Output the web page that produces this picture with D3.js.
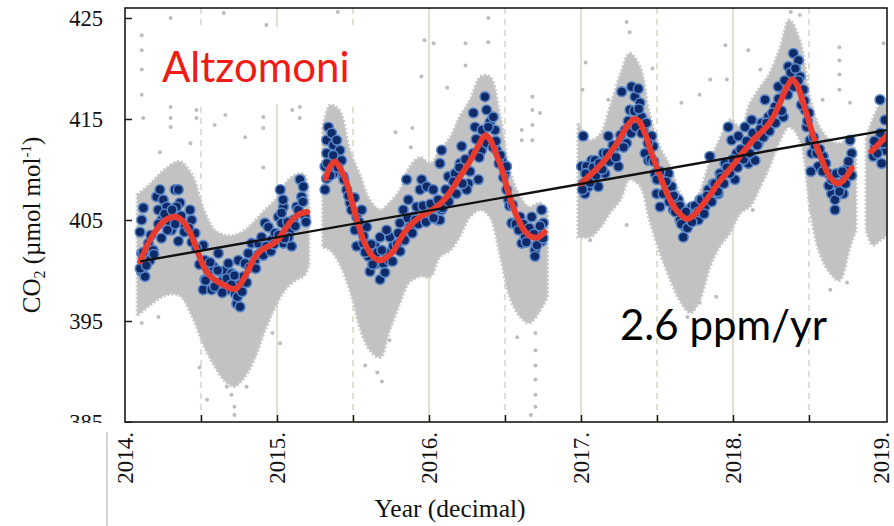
<!DOCTYPE html>
<html><head><meta charset="utf-8">
<script src="https://cdn.jsdelivr.net/npm/d3@7"></script>
<style>html,body{margin:0;padding:0;background:#fff;} svg{display:block;}</style>
</head><body>
<svg id="chart" width="894" height="526"></svg>
<script>
// ---------------- DATA ----------------
const yTickValues = [385, 395, 405, 415, 425];
const xLabelYears = [2014, 2015, 2016, 2017, 2018, 2019];
const xTickLabels = ["2014.", "2015.", "2016.", "2017.", "2018.", "2019."];
const yearGrid = [2015, 2016, 2017, 2018];
const halfYearGrid = [2014.5, 2015.5, 2016.5, 2017.5, 2018.5];

// smoothed fit (red), segments [year, ppm]
const fitSeg1 = [[2014.10,400.9],[2014.15,402.6],[2014.20,403.9],[2014.25,404.8],[2014.30,405.25],[2014.34,405.3],[2014.38,404.9],[2014.42,404.0],[2014.46,402.6],[2014.50,401.0],[2014.54,399.8],[2014.58,399.2],[2014.62,398.8],[2014.66,398.5],[2014.70,398.2],[2014.73,398.2],[2014.77,398.9],[2014.81,400.0],[2014.85,401.2],[2014.89,401.9],[2014.93,402.3],[2014.97,402.6],[2015.01,403.1],[2015.05,404.0],[2015.10,405.0],[2015.15,405.6],[2015.20,405.8]];
const fitSeg2 = [[2015.32,409.1],[2015.35,410.3],[2015.38,410.8],[2015.42,410.0],[2015.46,408.6],[2015.50,406.4],[2015.54,404.3],[2015.58,402.6],[2015.63,401.4],[2015.68,401.0],[2015.72,401.3],[2015.77,402.0],[2015.81,403.1],[2015.85,404.0],[2015.90,404.8],[2015.95,405.4],[2016.00,405.8],[2016.05,406.3],[2016.10,407.0],[2016.15,408.0],[2016.20,409.2],[2016.26,410.6],[2016.32,412.2],[2016.37,413.4],[2016.40,413.0],[2016.44,411.6],[2016.48,410.0],[2016.53,407.3],[2016.58,405.3],[2016.63,403.9],[2016.68,403.3],[2016.72,403.3],[2016.76,403.8]];
const fitSeg3 = [[2017.00,408.6],[2017.05,409.3],[2017.10,410.0],[2017.15,410.8],[2017.20,411.8],[2017.25,412.9],[2017.30,414.2],[2017.35,415.0],[2017.38,414.8],[2017.42,413.6],[2017.46,411.8],[2017.50,410.2],[2017.55,408.2],[2017.60,406.6],[2017.65,405.6],[2017.70,405.1],[2017.75,405.6],[2017.80,406.5],[2017.85,407.5],[2017.90,408.6],[2017.95,409.5],[2018.00,410.4],[2018.05,411.4],[2018.10,412.3],[2018.15,413.2],[2018.20,413.9],[2018.25,414.8],[2018.30,416.3],[2018.35,418.0],[2018.39,418.9],[2018.42,418.4],[2018.45,417.2],[2018.48,415.7],[2018.51,414.2],[2018.55,412.3],[2018.60,410.4],[2018.64,409.2],[2018.69,408.6],[2018.73,409.0],[2018.78,410.1]];
const fitSeg4 = [[2018.91,411.8],[2018.95,412.4],[2019.01,413.3]];

// linear trend (black)
const trendYears = [2014.10, 2019.01];
const trendValues = [400.9, 413.9];

// daily means (blue dots) [year, ppm]
const blueDaily1 = [[2014.121,406.2],[2014.110,405.0],[2014.099,403.8],[2014.110,401.7],[2014.110,399.9],[2014.132,399.4],[2014.154,402.7],[2014.164,401.0],[2014.186,402.0],[2014.208,407.3],[2014.219,406.0],[2014.230,408.0],[2014.252,407.0],[2014.241,405.0],[2014.274,406.3],[2014.296,404.8],[2014.329,408.0],[2014.351,408.0],[2014.362,406.7],[2014.340,406.3],[2014.307,404.0],[2014.351,402.9],[2014.395,404.3],[2014.428,406.0],[2014.439,405.0],[2014.461,403.7],[2014.515,402.5],[2014.526,401.0],[2014.526,399.1],[2014.515,398.1],[2014.570,398.1],[2014.548,400.0],[2014.581,400.4],[2014.614,401.7],[2014.625,399.9],[2014.636,398.9],[2014.658,400.0],[2014.669,398.1],[2014.680,400.7],[2014.702,399.7],[2014.724,397.7],[2014.735,396.7],[2014.757,396.4],[2014.746,401.0],[2014.757,398.6],[2014.779,399.4],[2014.789,400.7],[2014.811,401.7],[2014.833,402.7],[2014.855,401.0],[2014.877,402.7],[2014.899,403.3],[2014.921,404.7],[2014.943,404.3],[2014.965,403.0],[2014.987,403.7],[2015.009,405.3],[2015.031,404.7],[2015.042,406.3],[2015.022,408.0],[2015.040,407.0],[2015.030,405.7],[2015.085,404.0],[2015.042,402.7],[2015.107,405.0],[2015.151,409.0],[2015.173,408.3],[2015.162,407.3],[2015.129,406.3],[2015.184,405.3],[2015.096,402.4],[2015.075,403.3],
[2014.10,400.2],[2014.12,401.8],[2014.14,400.5],[2014.17,403.5],[2014.19,401.6],[2014.22,404.6],[2014.24,403.2],[2014.26,405.6],[2014.28,404.0],[2014.31,406.0],[2014.33,404.6],[2014.37,405.4],[2014.39,403.8],[2014.42,404.2],[2014.44,402.8],[2014.47,402.2],[2014.49,400.6],[2014.53,399.0],[2014.56,400.8],[2014.59,398.4],[2014.61,400.0],[2014.64,397.8],[2014.67,399.2],[2014.70,398.6],[2014.72,399.5],[2014.74,397.4],[2014.77,397.9],[2014.80,398.8],[2014.82,400.3],[2014.86,400.2],[2014.88,401.6],[2014.91,401.5],[2014.93,402.4],[2014.96,401.9],[2014.98,402.6],[2015.01,403.5],[2015.05,403.2],[2015.07,404.8],[2015.12,404.4],[2015.14,406.0],[2015.17,406.8],[2015.19,404.8]];
const blueDaily2 = [[2015.338,414.2],[2015.327,412.9],[2015.360,413.6],[2015.371,412.4],[2015.393,412.9],[2015.414,411.9],[2015.425,410.9],[2015.327,411.6],[2015.316,410.3],[2015.327,409.1],[2015.316,408.0],[2015.371,409.6],[2015.436,409.3],[2015.458,408.0],[2015.480,406.7],[2015.524,405.3],[2015.557,406.0],[2015.513,404.0],[2015.524,402.4],[2015.568,402.7],[2015.590,404.3],[2015.601,401.4],[2015.612,399.9],[2015.656,400.7],[2015.678,399.1],[2015.645,402.4],[2015.678,403.3],[2015.700,400.7],[2015.721,401.7],[2015.743,403.3],[2015.721,404.0],[2015.765,402.4],[2015.798,403.7],[2015.809,404.7],[2015.853,409.0],[2015.831,406.0],[2015.864,407.0],[2015.875,404.3],[2015.897,405.3],[2015.919,406.3],[2015.941,408.0],[2015.952,409.0],[2015.985,408.3],[2015.963,405.0],[2016.006,405.7],[2016.028,408.0],[2016.050,406.3],[2016.061,405.0],
[2016.083,406.0],[2016.072,405.0],[2016.149,407.6],[2016.127,409.3],[2016.083,411.9],[2016.072,410.6],[2016.171,409.6],[2016.215,412.3],[2016.204,410.6],[2016.259,408.6],[2016.248,408.0],[2016.292,415.6],[2016.303,414.2],[2016.325,409.0],[2016.346,411.9],[2016.368,417.2],[2016.379,415.9],[2016.401,414.7],[2016.423,415.2],[2016.434,413.9],[2016.412,412.6],[2016.445,411.9],[2016.478,410.9],[2016.500,409.6],[2016.511,408.0],[2016.522,407.0],[2016.544,404.7],[2016.599,405.3],[2016.610,402.7],[2016.632,403.3],[2016.676,405.3],[2016.697,402.0],[2016.697,401.4],[2016.741,406.0],[2016.752,404.7],[2016.741,402.9],[2016.719,403.8],
[2015.33,410.6],[2015.35,409.4],[2015.37,411.4],[2015.40,410.2],[2015.44,409.0],[2015.47,407.4],[2015.49,406.0],[2015.51,407.2],[2015.54,404.8],[2015.57,403.4],[2015.58,401.8],[2015.62,402.6],[2015.63,400.6],[2015.66,401.8],[2015.69,402.0],[2015.71,399.8],[2015.74,401.0],[2015.76,400.9],[2015.79,402.6],[2015.81,401.9],[2015.84,403.0],[2015.86,405.2],[2015.89,403.7],[2015.91,405.0],[2015.93,404.6],[2015.96,406.4],[2015.98,404.8],[2016.01,406.6],[2016.03,405.2],[2016.06,407.0],[2016.09,406.2],[2016.11,408.0],[2016.13,406.8],[2016.16,408.8],[2016.18,407.6],[2016.20,410.2],[2016.22,408.6],[2016.24,411.0],[2016.27,409.8],[2016.29,411.6],[2016.31,413.0],[2016.33,411.2],[2016.35,413.9],[2016.38,412.6],[2016.39,414.2],[2016.42,412.2],[2016.44,412.8],[2016.46,410.6],[2016.47,411.4],[2016.49,409.2],[2016.51,410.3],[2016.53,406.4],[2016.55,406.5],[2016.57,404.6],[2016.59,404.0],[2016.62,404.6],[2016.64,402.8],[2016.66,404.2],[2016.69,403.6],[2016.71,402.5],[2016.73,404.4],[2016.75,403.2]];
const blueDaily3 = [[2017.015,413.3],[2017.004,410.3],[2017.015,408.6],[2017.026,407.6],[2017.070,410.9],
[2017.037,410.3],[2017.048,408.3],[2017.070,409.6],[2017.092,410.9],[2017.114,408.3],[2017.147,411.6],[2017.158,409.6],[2017.180,413.3],[2017.202,410.9],[2017.235,412.3],[2017.246,410.3],[2017.268,417.7],[2017.290,413.9],[2017.300,412.6],[2017.322,415.9],[2017.333,418.2],[2017.355,417.2],[2017.377,418.0],[2017.388,416.6],[2017.399,415.2],[2017.410,413.9],[2017.421,411.6],[2017.443,410.9],[2017.465,413.3],[2017.476,412.3],[2017.487,409.6],[2017.498,407.6],[2017.520,406.3],[2017.553,407.6],[2017.575,409.6],[2017.596,408.3],[2017.607,406.0],[2017.640,407.0],[2017.651,405.0],[2017.673,403.3],[2017.684,404.3],[2017.717,405.3],[2017.728,406.3],[2017.772,405.0],[2017.783,407.0],[2017.816,406.3],[2017.838,408.0],[2017.848,411.3],[2017.870,408.6],[2017.903,407.6],[2017.914,409.6],[2017.947,410.6],[2017.969,414.2],[2017.991,412.9],[2018.024,411.6],[2018.035,413.3],
[2018.013,409.0],[2018.079,414.2],[2018.101,410.6],[2018.123,414.9],[2018.145,410.9],[2018.167,412.6],[2018.189,414.6],[2018.233,415.2],[2018.211,416.9],[2018.276,416.2],[2018.298,418.2],[2018.342,417.5],[2018.331,415.2],[2018.364,420.2],[2018.397,421.5],[2018.430,420.8],[2018.441,419.2],[2018.463,417.9],[2018.474,415.9],[2018.485,414.2],[2018.507,412.9],[2018.518,411.6],[2018.540,412.3],[2018.561,410.3],[2018.594,411.3],[2018.627,409.6],[2018.649,407.6],[2018.671,407.0],[2018.671,406.0],[2018.693,408.5],[2018.715,409.6],[2018.726,407.6],[2018.770,412.9],[2018.781,411.6],[2018.759,410.3],[2018.513,409.8],
[2017.01,408.0],[2017.03,409.6],[2017.06,408.7],[2017.08,410.2],[2017.10,409.4],[2017.12,410.6],[2017.14,410.0],[2017.17,411.6],[2017.19,410.8],[2017.21,412.4],[2017.23,411.2],[2017.26,413.4],[2017.28,412.2],[2017.31,414.8],[2017.33,413.6],[2017.35,415.8],[2017.36,414.2],[2017.38,416.0],[2017.40,413.6],[2017.43,414.6],[2017.44,412.6],[2017.46,411.0],[2017.48,410.8],[2017.50,409.0],[2017.52,409.8],[2017.54,407.6],[2017.56,408.8],[2017.58,406.8],[2017.61,407.4],[2017.62,405.8],[2017.65,406.4],[2017.66,404.6],[2017.69,405.8],[2017.70,404.2],[2017.73,404.8],[2017.75,406.4],[2017.77,405.8],[2017.79,407.0],[2017.81,405.6],[2017.83,407.4],[2017.86,406.8],[2017.88,408.6],[2017.90,407.8],[2017.92,409.2],[2017.94,408.6],[2017.96,410.2],[2017.98,409.6],[2018.00,411.0],[2018.03,410.2],[2018.05,412.0],[2018.07,411.0],[2018.09,412.8],[2018.11,411.6],[2018.13,413.6],[2018.16,412.4],[2018.18,414.0],[2018.20,413.2],[2018.22,414.6],[2018.24,413.8],[2018.26,415.6],[2018.28,414.6],[2018.30,417.0],[2018.32,415.8],[2018.34,418.8],[2018.36,417.4],[2018.38,419.6],[2018.40,418.2],[2018.41,420.0],[2018.43,418.8],[2018.45,416.4],[2018.47,416.8],[2018.49,414.8],[2018.50,415.6],[2018.53,413.2],[2018.55,411.6],[2018.57,412.0],[2018.59,409.8],[2018.61,410.6],[2018.63,408.4],[2018.65,409.0],[2018.68,409.6],[2018.70,407.8],[2018.72,409.8],[2018.74,408.6],[2018.76,410.8],[2018.78,409.4]];
const blueDaily4 = [[2018.934,412.3],[2018.923,411.3],[2018.967,416.9],[2019.000,414.9],[2018.978,410.6],[2019.000,411.9],[2018.956,412.9],[2018.93,412.8],[2018.95,411.6],[2018.97,413.6],[2018.99,412.6]];

// hourly data: dense core envelope (gray) [year, low, high]
const grayEnv1 = [[2014.08,395.5,407.5],[2014.16,396.5,408.5],[2014.26,397.5,410],[2014.36,397.5,410.8],[2014.44,395.5,409.5],[2014.52,392.5,406],[2014.59,390.5,404],[2014.66,389,403.5],[2014.72,388.5,403.5],[2014.79,389.5,404],[2014.86,391.5,405],[2014.92,394,406],[2014.99,396.4,407],[2015.05,398,408.5],[2015.12,399,409.5],[2015.18,399.5,409.5],[2015.21,400.5,407]];
const grayEnv2 = [[2015.30,402.3,414],[2015.35,402,416.4],[2015.41,400.7,415.9],[2015.48,398,411.9],[2015.55,394.1,409.3],[2015.61,392.1,407],[2015.68,391.4,406],[2015.74,394,406.7],[2015.81,396.8,408],[2015.87,398.8,410.2],[2015.94,399.4,411.2],[2016.01,399.4,410.6],[2016.07,401.3,411.9],[2016.14,402,413.2],[2016.20,403.3,415.2],[2016.27,405.3,416.9],[2016.34,406,419.2],[2016.40,405.3,419.2],[2016.47,401.3,415.2],[2016.53,397.4,410],[2016.60,395.4,407.3],[2016.66,394.8,406.3],[2016.73,396,406.7],[2016.78,397.4,406]];
const grayEnv3 = [[2016.98,403.3,414.6],[2017.06,403.3,412.9],[2017.13,404.3,413.6],[2017.19,405.7,416.2],[2017.26,407,419.5],[2017.32,409,421.5],[2017.39,408.3,420.1],[2017.45,405,415.6],[2017.52,401.7,412.2],[2017.59,399,410.2],[2017.65,397,407.7],[2017.72,395.8,406.3],[2017.78,397,407.7],[2017.85,400.4,410.9],[2017.91,402.3,412.9],[2017.98,403.7,414.9],[2018.05,405.7,414.2],[2018.11,406.3,416.5],[2018.18,408.3,418.2],[2018.24,410.2,419.5],[2018.31,412.9,422.1],[2018.37,414.2,424.8],[2018.44,412.9,422.8],[2018.51,405.7,416.9],[2018.57,401.7,414.2],[2018.64,399.7,412.9],[2018.70,399,412.6],[2018.77,402.3,412.9],[2018.81,404,411.5]];
const grayEnv4 = [[2018.875,404,413],[2018.92,402.5,415],[2018.97,403,416.5],[2019.02,403.5,417]];

// scattered hourly outliers [year, ppm]
const grayOutliers = [[2014.30,425.0],[2014.65,425.5],[2014.93,424.3],[2015.40,425.6],[2014.11,423.3],[2014.11,421.8],[2014.11,419.9],[2014.11,417.4],[2014.47,415.9],[2014.47,415.1],[2014.30,416.2],[2014.30,415.1],[2014.30,414.2],[2015.15,416.2],[2015.15,415.1],[2014.91,415.2],[2014.91,414.1],[2014.66,415.4],[2014.79,413.2],[2014.59,414.4],[2014.12,415.1],[2014.23,411.7],[2014.43,412.6],[2014.91,410.2],[2015.10,415.9],[2015.95,419.2],[2015.97,422.8],[2016.03,422.5],[2016.24,422.5],[2016.39,422.6],[2016.39,425.0],[2016.24,420.3],[2016.12,418.1],[2015.78,413.7],[2015.89,414.1],[2015.88,412.2],[2016.68,417.2],[2016.68,415.9],[2016.68,414.4],[2016.68,412.9],[2016.73,415.6],[2016.61,413.9],[2016.61,412.9],[2017.01,417.9],[2017.03,420.6],[2017.30,424.6],[2017.32,423.6],[2017.47,420.0],[2017.66,416.6],[2017.85,418.9],[2017.96,418.9],[2018.10,421.8],[2018.18,419.9],[2018.38,425.6],[2018.44,425.3],[2018.70,422.1],[2018.70,420.8],[2018.70,419.4],[2018.70,417.9],[2018.77,416.6],[2018.99,422.5],[2018.59,416.9],[2017.95,422.3],[2017.18,416.9],[2017.78,417.4],
[2016.70,393.8],[2016.70,392.1],[2016.70,390.6],[2016.70,389.2],[2016.70,387.7],[2016.70,386.5],[2016.67,385.7],[2016.58,393.4],[2017.06,403.0],[2017.30,404.5],[2018.13,406.0],[2018.64,398.1],[2018.75,398.8],[2018.92,403.0],[2017.89,397.4],[2017.78,396.8],[2017.70,395.4],[2014.11,394.8],[2014.22,395.4],[2014.54,387.2],[2014.72,386.5],[2014.72,385.7],[2014.70,387.7],[2014.67,388.5],[2014.80,388.5],[2014.97,393.8],[2015.02,392.8],[2015.66,389.9],[2015.74,393.1],[2014.49,390.4],[2015.69,389.0],[2015.58,390.6]];

const stationName = "Altzomoni";
const rateLabel = "2.6 ppm/yr";
const yTitleMain = "CO", yTitleSub = "2", yTitleMid = " (µmol mol", yTitleSup = "-1", yTitleEnd = ")";
const xTitle = "Year (decimal)";

// ---------------- LAYOUT ----------------
const svg = d3.select("#chart");
const plot = {left:125, right:887, top:8, bottom:422};
const x = d3.scaleLinear().domain([2014, 2019]).range([125, 885]);
const y = d3.scaleLinear().domain([385, 425]).range([422, 18]);
const serif = "'Liberation Serif','Times New Roman',serif";
const sans = "Lato,'Open Sans',sans-serif";

svg.append("rect").attr("width",894).attr("height",526).attr("fill","#fff");

const defs = svg.append("defs");
defs.append("clipPath").attr("id","plotclip").append("rect")
  .attr("x",plot.left).attr("y",plot.top).attr("width",plot.right-plot.left).attr("height",plot.bottom-plot.top);
defs.append("clipPath").attr("id","ylabclip").append("rect")
  .attr("x",-plot.left).attr("y",0).attr("width",plot.left+10).attr("height",423);

const g = svg.append("g").attr("clip-path","url(#plotclip)");

// grid lines
g.selectAll("line.yr").data(yearGrid).join("line").attr("class","yr")
  .attr("x1",d=>x(d)).attr("x2",d=>x(d)).attr("y1",plot.top).attr("y2",plot.bottom)
  .attr("stroke","#d3d0b4").attr("stroke-width",1.3);
g.selectAll("line.half").data(halfYearGrid).join("line").attr("class","half")
  .attr("x1",d=>x(d)).attr("x2",d=>x(d)).attr("y1",plot.top).attr("y2",plot.bottom)
  .attr("stroke","#cdcab4").attr("stroke-width",1.2).attr("stroke-dasharray","6,5");

// gray hourly cloud
const area = d3.area().x(d=>x(d[0])).y0(d=>y(d[1])).y1(d=>y(d[2])).curve(d3.curveCatmullRom.alpha(0.5));
[grayEnv1, grayEnv2, grayEnv3, grayEnv4].forEach(env=>{
  g.append("path").datum(env).attr("d",area).attr("fill","#c2c2c2")
    .attr("stroke","#c8c8c8").attr("stroke-width",3).attr("stroke-dasharray","2,2");
});
g.selectAll("circle.out").data(grayOutliers).join("circle").attr("class","out")
  .attr("cx",d=>x(d[0])).attr("cy",d=>y(d[1])).attr("r",2).attr("fill","#bdbdbd");

// blue daily means
const blueAll = [].concat(blueDaily1, blueDaily2, blueDaily3, blueDaily4);
g.selectAll("circle.day").data(blueAll).join("circle").attr("class","day")
  .attr("cx",d=>x(d[0])).attr("cy",d=>y(d[1])).attr("r",4.9)
  .attr("fill","#0f2a68").attr("stroke","#5886c8").attr("stroke-width",1.6);

// red smooth fit
const line = d3.line().x(d=>x(d[0])).y(d=>y(d[1])).curve(d3.curveCatmullRom.alpha(0.5));
[fitSeg1, fitSeg2, fitSeg3, fitSeg4].forEach(seg=>{
  g.append("path").datum(seg).attr("d",line).attr("fill","none")
    .attr("stroke","#e63b2e").attr("stroke-width",6).attr("stroke-linecap","round");
});

// black trend
g.append("path").datum(d3.zip(trendYears, trendValues)).attr("d",d3.line().x(d=>x(d[0])).y(d=>y(d[1])))
  .attr("fill","none").attr("stroke","#111").attr("stroke-width",2.4);

// white label box + station name
svg.append("rect").attr("x",145).attr("y",27).attr("width",255).attr("height",77).attr("fill","#fff");
svg.append("text").attr("x",162).attr("y",82).attr("font-family",sans).attr("font-size",42)
  .attr("fill","#f21a14").text(stationName);
svg.append("text").attr("x",620).attr("y",340).attr("font-family",sans).attr("font-size",42)
  .attr("fill","#000").text(rateLabel);

// frame
svg.append("rect").attr("x",plot.left).attr("y",plot.top).attr("width",plot.right-plot.left)
  .attr("height",plot.bottom-plot.top).attr("fill","none").attr("stroke","#1a1a1a").attr("stroke-width",1.6);

// y axis
const yAxis = d3.axisLeft(y).tickValues(yTickValues).tickSize(-7).tickPadding(22).tickFormat(d3.format("d"));
const ya = svg.append("g").attr("transform",`translate(${plot.left},0)`).attr("clip-path","url(#ylabclip)").call(yAxis);
ya.select(".domain").remove();
ya.selectAll(".tick line").attr("stroke","#1a1a1a").attr("stroke-width",1.5);
ya.selectAll(".tick text").attr("font-family",serif).attr("font-size",22.5).attr("fill","#111");

// x axis ticks (inward)
const xAxis = d3.axisBottom(x).tickValues(halfYearGrid.concat(yearGrid)).tickSize(-7).tickFormat("");
const xa = svg.append("g").attr("transform",`translate(0,${plot.bottom})`).call(xAxis);
xa.select(".domain").remove();
xa.selectAll(".tick line").attr("stroke","#1a1a1a").attr("stroke-width",1.5);

// x tick labels rotated (last one nudged to stay inside the canvas)
svg.selectAll("text.xlab").data(xLabelYears).join("text").attr("class","xlab")
  .attr("transform",d=>`translate(${Math.min(x(d), 881)},432) rotate(-90)`)
  .attr("text-anchor","end").attr("dy","0.33em")
  .attr("font-family",serif).attr("font-size",23).attr("fill","#111")
  .text((d,i)=>xTickLabels[i]);

// decorative slide border line
svg.append("line").attr("x1",107).attr("x2",107).attr("y1",432).attr("y2",526)
  .attr("stroke","#c8c8c8").attr("stroke-width",1.5);

// axis titles
svg.append("text").attr("x",450).attr("y",517).attr("text-anchor","middle")
  .attr("font-family",serif).attr("font-size",25.5).attr("fill","#111").text(xTitle);
const yt = svg.append("text").attr("transform","translate(40,225) rotate(-90)").attr("text-anchor","middle")
  .attr("font-family",serif).attr("font-size",25).attr("fill","#111");
yt.append("tspan").text(yTitleMain);
yt.append("tspan").attr("font-size",16).attr("dy",5).text(yTitleSub);
yt.append("tspan").attr("dy",-5).text(yTitleMid);
yt.append("tspan").attr("font-size",15).attr("dy",-9).text(yTitleSup);
yt.append("tspan").attr("dy",9).text(yTitleEnd);
</script>
</body></html>
